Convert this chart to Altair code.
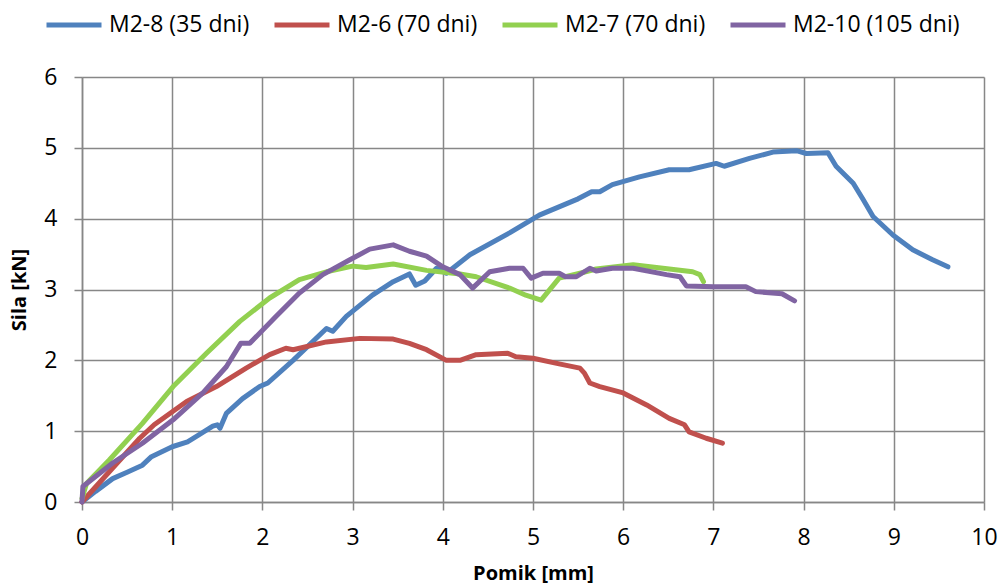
import altair as alt
import pandas as pd

series_names = ["M2-8 (35 dni)", "M2-6 (70 dni)", "M2-7 (70 dni)", "M2-10 (105 dni)"]
series_colors = ["#4F81BD", "#C0504D", "#92D050", "#8064A2"]

m28_x = [0, 0.15, 0.34, 0.5, 0.67, 0.77, 1.0, 1.17, 1.30, 1.45, 1.50, 1.53, 1.60, 1.78, 1.97, 2.06, 2.34, 2.71, 2.78, 2.93, 3.22, 3.45, 3.63, 3.70, 3.80, 3.93, 4.04, 4.30, 4.74, 5.07, 5.5, 5.65, 5.74, 5.88, 6.18, 6.51, 6.73, 7.03, 7.12, 7.40, 7.66, 7.92, 8.03, 8.27, 8.36, 8.55, 8.66, 8.77, 8.99, 9.21, 9.43, 9.60]
m28_y = [0, 0.15, 0.33, 0.42, 0.52, 0.64, 0.78, 0.85, 0.95, 1.07, 1.09, 1.04, 1.25, 1.46, 1.63, 1.68, 2.0, 2.45, 2.41, 2.62, 2.92, 3.11, 3.22, 3.06, 3.12, 3.30, 3.23, 3.49, 3.80, 4.05, 4.28, 4.38, 4.38, 4.48, 4.59, 4.69, 4.69, 4.78, 4.74, 4.85, 4.94, 4.96, 4.92, 4.93, 4.74, 4.50, 4.27, 4.03, 3.77, 3.56, 3.42, 3.32]

m26_x = [0, 0.34, 0.64, 0.80, 1.16, 1.49, 1.82, 2.08, 2.26, 2.34, 2.71, 3.08, 3.45, 3.63, 3.82, 4.04, 4.19, 4.37, 4.72, 4.81, 5.0, 5.29, 5.52, 5.57, 5.63, 5.74, 6.0, 6.26, 6.51, 6.68, 6.73, 6.92, 7.10]
m26_y = [0, 0.48, 0.90, 1.09, 1.42, 1.63, 1.89, 2.08, 2.17, 2.15, 2.26, 2.31, 2.30, 2.24, 2.15, 2.0, 2.0, 2.08, 2.10, 2.05, 2.03, 1.95, 1.89, 1.82, 1.68, 1.63, 1.54, 1.37, 1.18, 1.09, 0.99, 0.90, 0.83]

m27_x = [0, 0.05, 0.30, 0.67, 1.01, 1.38, 1.75, 2.08, 2.41, 2.71, 3.0, 3.15, 3.45, 3.82, 4.19, 4.37, 4.74, 4.92, 5.09, 5.29, 5.52, 5.70, 6.11, 6.44, 6.77, 6.85, 6.89]
m27_y = [0.05, 0.26, 0.59, 1.11, 1.63, 2.10, 2.55, 2.88, 3.14, 3.25, 3.33, 3.31, 3.36, 3.27, 3.22, 3.18, 3.02, 2.92, 2.85, 3.16, 3.23, 3.29, 3.35, 3.30, 3.25, 3.21, 3.11]

m210_x = [0, 0.01, 0.34, 0.67, 1.01, 1.34, 1.60, 1.76, 1.86, 2.15, 2.41, 2.67, 2.97, 3.19, 3.45, 3.63, 3.82, 4.0, 4.19, 4.33, 4.52, 4.74, 4.89, 4.98, 5.11, 5.29, 5.36, 5.48, 5.63, 5.70, 5.88, 6.11, 6.48, 6.63, 6.70, 7.0, 7.36, 7.47, 7.76, 7.90]
m210_y = [0, 0.22, 0.55, 0.83, 1.16, 1.54, 1.91, 2.24, 2.24, 2.62, 2.95, 3.21, 3.42, 3.57, 3.63, 3.54, 3.47, 3.32, 3.21, 3.02, 3.25, 3.30, 3.30, 3.16, 3.23, 3.23, 3.18, 3.18, 3.30, 3.26, 3.30, 3.30, 3.21, 3.18, 3.05, 3.04, 3.04, 2.97, 2.94, 2.84]

x_ticks = list(range(0, 11))
y_ticks = list(range(0, 7))

all_x = [m28_x, m26_x, m27_x, m210_x]
all_y = [m28_y, m26_y, m27_y, m210_y]

rows = []
for name, xs, ys in zip(series_names, all_x, all_y):
    for i, (xv, yv) in enumerate(zip(xs, ys)):
        rows.append({"series": name, "x": xv, "y": yv, "idx": i})
df = pd.DataFrame(rows)

FONT = "Open Sans"
GRID = "#878787"

color = alt.Color(
    "series:N",
    scale=alt.Scale(domain=series_names, range=series_colors),
    legend=alt.Legend(
        title=None,
        orient="none",
        legendX=-38,
        legendY=-82,
        direction="horizontal",
        symbolType="stroke",
        symbolSize=3025,
        symbolStrokeWidth=5,
        labelFont=FONT,
        labelFontSize=23,
        labelColor="black",
        labelOffset=5,
        columnPadding=14,
        labelLimit=400,
    ),
)

xenc = alt.X(
    "x:Q",
    scale=alt.Scale(domain=[0, 10], nice=False),
    axis=alt.Axis(values=x_ticks, title="Pomik [mm]", titlePadding=14, labelPadding=16, labelFlush=False),
)
yenc = alt.Y(
    "y:Q",
    scale=alt.Scale(domain=[0, 6], nice=False),
    axis=alt.Axis(values=y_ticks, title="Sila [kN]", titlePadding=14, labelPadding=17, labelFlush=False),
)

layers = []
for name in series_names:
    layers.append(
        alt.Chart(df)
        .transform_filter(alt.datum.series == name)
        .mark_line(strokeWidth=5, strokeCap="round", strokeJoin="round")
        .encode(x=xenc, y=yenc, color=color, order="idx:Q")
    )

chart = (
    alt.layer(*layers)
    .properties(
        width=902,
        height=425,
        autosize=alt.AutoSizeParams(type="none"),
        padding={"left": 82, "top": 77, "right": 16, "bottom": 85},
        background="white",
    )
    .configure_view(stroke=None)
    .configure_axis(
        gridColor=GRID,
        gridWidth=1.5,
        domainColor=GRID,
        domainWidth=1.5,
        tickColor=GRID,
        tickWidth=1.5,
        tickSize=8,
        labelFont=FONT,
        labelFontSize=23,
        labelColor="black",
        titleFont=FONT,
        titleFontSize=20,
        titleFontWeight="bold",
        titleColor="black",
    )
)

chart.save("out.html", embed_options={"renderer": "svg", "actions": False})
